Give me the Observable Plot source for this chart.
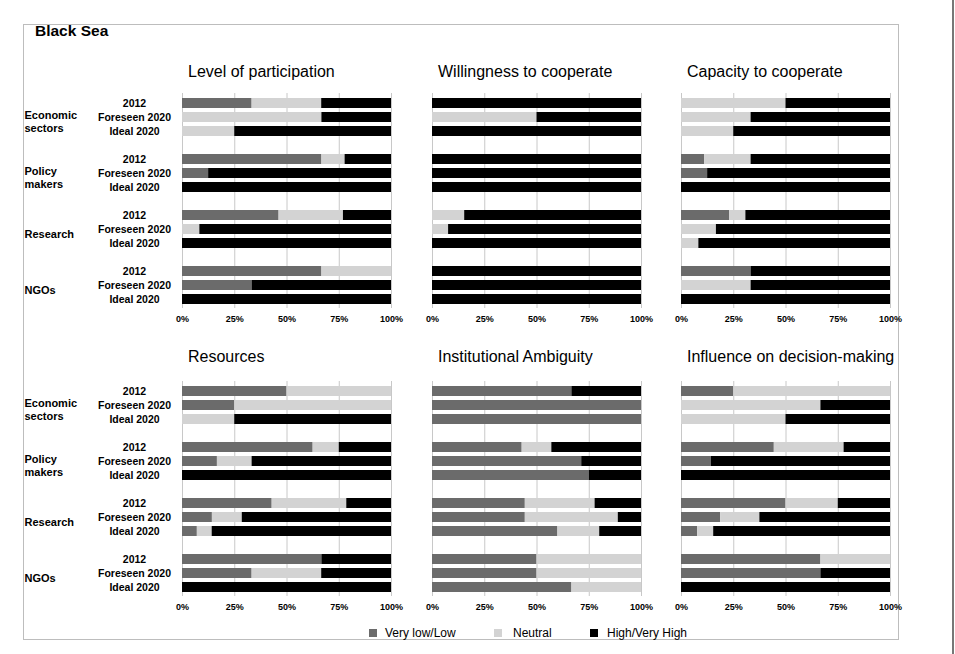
<!DOCTYPE html>
<html>
<head>
<meta charset="utf-8">
<script src="https://cdn.jsdelivr.net/npm/d3@7"></script>
<script src="https://cdn.jsdelivr.net/npm/@observablehq/plot@0.6"></script>
<style>
  html, body { margin: 0; padding: 0; background: #fff; }
  #wrap { position: relative; width: 955px; height: 654px; background: #fff; overflow: hidden;
          font-family: "Liberation Sans", Arial, Helvetica, sans-serif; color: #000; }
  .abs { position: absolute; }
  .title { position: absolute; font-size: 16px; line-height: 16px; white-space: nowrap; }
  .leg { position: absolute; font-size: 12px; line-height: 12px; white-space: nowrap; }
  .sw { position: absolute; width: 8px; height: 8px; }
</style>
</head>
<body>
<div id="wrap"></div>
<script>
// ---------- data ----------
const chartTitle = "Black Sea";
const categories = ["Very low/Low", "Neutral", "High/Very High"];
const colors = ["#6b6b6b", "#d3d3d3", "#000000"];
const groups = ["Economic sectors", "Policy makers", "Research", "NGOs"];
const groupLabels = ["Economic\nsectors", "Policy\nmakers", "Research", "NGOs"];
const years = ["2012", "Foreseen 2020", "Ideal 2020"];
const panelTitles = ["Level of participation", "Willingness to cooperate", "Capacity to cooperate",
                     "Resources", "Institutional Ambiguity", "Influence on decision-making"];
const xTicks = [0, 25, 50, 75, 100];

// rows: Economic (2012, Foreseen, Ideal), Policy (...), Research (...), NGOs (...)
// each row: [Very low/Low, Neutral, High/Very High] in %
const participation = [
  [33.3, 33.3, 33.4], [0, 66.7, 33.3], [0, 25, 75],
  [66.7, 11.1, 22.2], [12.5, 0, 87.5], [0, 0, 100],
  [46.2, 30.8, 23.0], [0, 8.3, 91.7], [0, 0, 100],
  [66.7, 33.3, 0], [33.3, 0, 66.7], [0, 0, 100]
];
const willingness = [
  [0, 0, 100], [0, 50, 50], [0, 0, 100],
  [0, 0, 100], [0, 0, 100], [0, 0, 100],
  [0, 15.4, 84.6], [0, 7.7, 92.3], [0, 0, 100],
  [0, 0, 100], [0, 0, 100], [0, 0, 100]
];
const capacity = [
  [0, 50, 50], [0, 33.3, 66.7], [0, 25, 75],
  [11.1, 22.2, 66.7], [12.5, 0, 87.5], [0, 0, 100],
  [23.1, 7.7, 69.2], [0, 16.7, 83.3], [0, 8.3, 91.7],
  [33.3, 0, 66.7], [0, 33.3, 66.7], [0, 0, 100]
];
const resources = [
  [50, 50, 0], [25, 75, 0], [0, 25, 75],
  [62.5, 12.5, 25], [16.7, 16.6, 66.7], [0, 0, 100],
  [42.9, 35.7, 21.4], [14.3, 14.3, 71.4], [7.1, 7.1, 85.8],
  [66.7, 0, 33.3], [33.3, 33.3, 33.4], [0, 0, 100]
];
const ambiguity = [
  [66.7, 0, 33.3], [100, 0, 0], [100, 0, 0],
  [42.9, 14.2, 42.9], [71.4, 0, 28.6], [75, 0, 25],
  [44.4, 33.4, 22.2], [44.4, 44.5, 11.1], [60, 20, 20],
  [50, 50, 0], [50, 50, 0], [66.7, 33.3, 0]
];
const influence = [
  [25, 75, 0], [0, 66.7, 33.3], [0, 50, 50],
  [44.4, 33.4, 22.2], [14.3, 0, 85.7], [0, 0, 100],
  [50, 25, 25], [18.75, 18.75, 62.5], [7.7, 7.7, 84.6],
  [66.7, 33.3, 0], [66.7, 0, 33.3], [0, 0, 100]
];
const panelValues = [participation, willingness, capacity, resources, ambiguity, influence];

// ---------- layout ----------
const wrap = document.getElementById("wrap");
const font = '"Liberation Sans", Arial, Helvetica, sans-serif';

function el(cls, css, text) {
  const d = document.createElement("div");
  d.className = cls;
  Object.assign(d.style, css);
  if (text != null) d.textContent = text;
  wrap.appendChild(d);
  return d;
}

// border box
el("abs", {left: "23px", top: "24px", width: "876px", height: "616px", border: "1px solid #bdbdbd", boxSizing: "border-box"});
// scan edge line at right
el("abs", {left: "952px", top: "0px", width: "2px", height: "654px", background: "#777"});

el("abs", {left: "35px", top: "23px", fontSize: "15.5px", lineHeight: "16px", fontWeight: "bold"}, chartTitle);

const slots = [];
groups.forEach((g, gi) => {
  if (gi > 0) slots.push("gap" + gi);
  years.forEach(y => slots.push(g + "|" + y));
});

const colX = [182, 432, 681];
const rowTop = [93, 381];
const titleTop = [64, 349];
const plotW = 209;

function makePanel(idx) {
  const col = idx % 3, row = Math.floor(idx / 3);
  const values = panelValues[idx];
  const data = [];
  groups.forEach((g, gi) => years.forEach((y, yi) => categories.forEach((c, ci) => {
    data.push({slot: g + "|" + y, category: c, value: values[gi * 3 + yi][ci]});
  })));
  const first = col === 0;
  const ml = first ? 160 : 12;
  const mr = 12;
  const svg = Plot.plot({
    width: ml + plotW + mr,
    height: 240,
    marginLeft: ml, marginRight: mr, marginTop: 0, marginBottom: 25,
    style: {fontFamily: font, color: "#000", background: "transparent", overflow: "visible"},
    x: {domain: [0, 100], axis: null, label: null},
    y: {domain: slots, paddingInner: 0.3, paddingOuter: 0.3, axis: null, label: null},
    color: {domain: categories, range: colors},
    marks: [
      Plot.gridX(xTicks, {stroke: "#c8c8c8", strokeOpacity: 1, strokeWidth: 1}),
      Plot.barX(data, {x: "value", y: "slot", fill: "category", order: categories}),
      Plot.axisX({ticks: xTicks, tickSize: 0, tickPadding: 7, tickFormat: d => d + "%",
                  fontSize: 9, fontWeight: "bold", label: null}),
      first ? Plot.axisY({ticks: slots.filter(s => !s.startsWith("gap")), tickSize: 0, tickPadding: 48,
                          textAnchor: "middle", tickFormat: s => s.split("|")[1],
                          fontSize: 10.5, fontWeight: "bold", label: null}) : null,
      first ? Plot.text(groups.map((g, i) => ({slot: g + "|" + years[1], label: groupLabels[i]})),
                        {y: "slot", text: "label", frameAnchor: "left", dx: -158, dy: 4,
                         textAnchor: "start", fontWeight: "bold", fontSize: 11, lineHeight: 1.15}) : null
    ]
  });
  svg.style.position = "absolute";
  svg.style.left = (colX[col] - ml) + "px";
  svg.style.top = rowTop[row] + "px";
  wrap.appendChild(svg);
  el("title", {left: (colX[col] + 6) + "px", top: titleTop[row] + "px"}, panelTitles[idx]);
}
panelTitles.forEach((t, i) => makePanel(i));

// legend
const legSwX = [369, 494, 590];
const legTxX = [385, 513, 607];
categories.forEach((c, i) => {
  el("sw", {left: legSwX[i] + "px", top: "629px", background: colors[i]});
  el("leg", {left: legTxX[i] + "px", top: "627px"}, c);
});
</script>
</body>
</html>
